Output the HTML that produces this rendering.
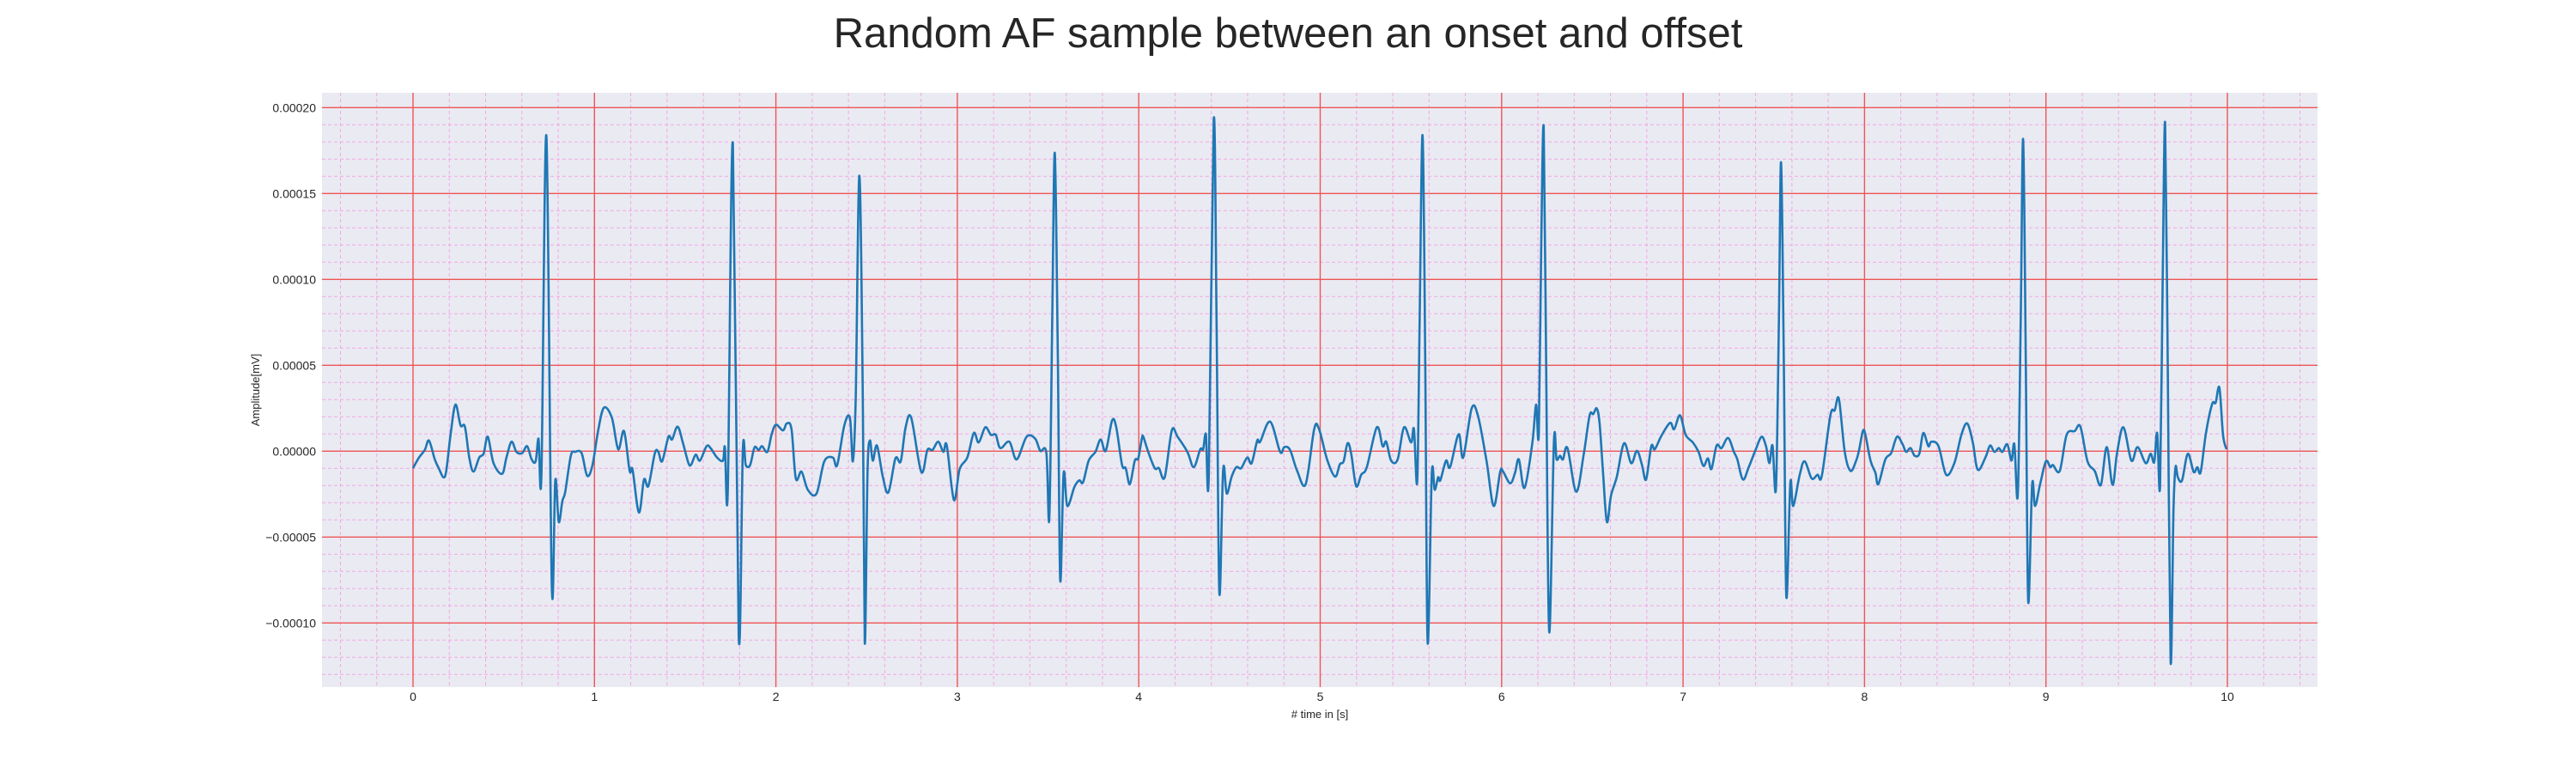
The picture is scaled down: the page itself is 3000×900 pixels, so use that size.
<!DOCTYPE html>
<html><head><meta charset="utf-8">
<style>
html,body{margin:0;padding:0;background:#fff;}
svg{display:block;font-family:"Liberation Sans",Arial,sans-serif;}
</style></head>
<body>
<svg id="chart" width="3000" height="900" viewBox="0 0 3000 900" xmlns="http://www.w3.org/2000/svg">
<text x="1500" y="55" text-anchor="middle" font-size="49" fill="#262626">Random AF sample between an onset and offset</text>
<rect x="375" y="108" width="2324" height="692" fill="#eaeaf2"/>
<g id="grid"></g>
<g id="ticks"></g>
<g id="series"></g>
<text x="1537" y="836" text-anchor="middle" font-size="13" fill="#262626"># time in [s]</text>
<text x="302" y="454" text-anchor="middle" font-size="13" fill="#262626" transform="rotate(-90 302 454)">Amplitude[mV]</text>
</svg>
<script>
// time in seconds
const times = [0.000,0.033,0.065,0.088,0.120,0.144,0.167,0.183,0.207,0.234,0.262,0.286,0.310,0.333,0.365,0.389,0.412,0.444,0.491,0.515,0.543,0.570,0.602,0.629,0.654,0.676,0.692,0.708,0.735,0.765,0.784,0.803,0.823,0.839,0.870,0.894,0.929,0.960,0.989,1.020,1.052,1.096,1.131,1.163,1.194,1.210,1.245,1.273,1.297,1.333,1.352,1.373,1.408,1.428,1.458,1.487,1.518,1.534,1.558,1.581,1.618,1.640,1.676,1.708,1.719,1.735,1.763,1.795,1.818,1.834,1.858,1.882,1.905,1.924,1.953,1.976,2.000,
2.039,2.060,2.086,2.110,2.141,2.176,2.224,2.267,2.314,2.338,2.377,2.408,2.424,2.440,2.460,2.479,2.490,2.505,2.518,2.534,2.557,2.589,2.620,2.659,2.688,2.715,2.746,2.801,2.835,2.863,2.895,2.923,2.942,2.981,3.013,3.055,3.091,3.118,3.154,3.185,3.212,3.237,3.287,3.327,3.382,3.429,3.457,3.491,3.507,3.523,3.537,3.554,3.567,3.586,3.606,3.645,3.672,3.693,3.724,3.761,3.790,3.818,3.853,3.876,3.908,3.928,3.951,3.978,3.997,
4.017,4.025,4.052,4.088,4.111,4.143,4.182,4.214,4.268,4.303,4.339,4.355,4.370,4.386,4.413,4.429,4.444,4.465,4.485,4.512,4.538,4.564,4.598,4.622,4.653,4.669,4.724,4.779,4.802,4.834,4.873,4.920,4.967,4.994,5.038,5.082,5.108,5.129,5.151,5.171,5.198,5.226,5.257,5.312,5.344,5.364,5.391,5.427,5.462,5.501,5.517,5.535,5.548,5.564,5.579,5.592,5.615,5.631,5.650,5.662,5.694,5.716,5.763,5.788,5.835,5.870,5.917,5.956,5.992,
6.006,6.047,6.074,6.095,6.126,6.169,6.190,6.205,6.218,6.232,6.245,6.262,6.288,6.303,6.322,6.338,6.363,6.411,6.453,6.485,6.505,6.524,6.540,6.559,6.580,6.603,6.635,6.675,6.714,6.746,6.774,6.796,6.825,6.844,6.880,6.928,6.951,6.983,7.014,7.054,7.085,7.112,7.137,7.156,7.185,7.212,7.248,7.280,7.299,7.330,7.362,7.401,7.433,7.457,7.476,7.493,7.512,7.528,7.540,7.555,7.569,7.591,7.607,7.643,7.670,7.709,7.741,7.765,7.812,7.836,7.859,7.891,7.923,7.954,7.970,7.991,
8.005,8.033,8.060,8.076,8.115,8.147,8.179,8.210,8.229,8.254,8.276,8.302,8.324,8.352,8.368,8.408,8.450,8.495,8.534,8.566,8.597,8.624,8.668,8.692,8.716,8.740,8.760,8.787,8.810,8.826,8.845,8.861,8.874,8.889,8.902,8.924,8.940,8.968,9.000,9.024,9.039,9.076,9.114,9.158,9.190,9.229,9.269,9.303,9.335,9.367,9.392,9.427,9.471,9.505,9.550,9.577,9.597,9.613,9.629,9.643,9.657,9.671,9.687,9.703,9.714,9.727,9.750,9.782,9.814,9.834,9.853,9.882,9.916,9.935,9.956,9.976,9.995];
// amplitude in units of 1e-5 mV
const amps = [-0.99,-0.37,0.07,0.62,-0.48,-1.04,-1.52,-1.15,0.95,2.71,1.50,1.43,-0.37,-1.19,-0.37,-0.15,0.84,-0.70,-1.32,-0.37,0.55,-0.04,-0.11,0.29,-0.48,-0.59,0.73,-1.26,18.35,-7.86,-1.70,-4.12,-2.91,-2.36,-0.26,-0.04,-0.11,-1.43,-0.81,1.17,2.53,1.94,0.11,1.17,-1.15,-1.08,-3.57,-1.65,-2.03,-0.11,-0.04,-0.59,0.84,0.68,1.43,0.51,-0.70,-0.77,-0.20,-0.55,0.29,0.18,-0.37,-0.55,0.24,-2.25,17.91,-10.77,0.07,-0.81,-0.81,0.22,0.07,0.29,-0.04,0.95,1.54,
1.21,1.61,1.28,-1.59,-1.19,-2.25,-2.47,-0.59,-0.37,-0.81,1.50,1.94,-0.59,3.15,16.04,3.15,-11.17,-1.26,0.62,-0.55,0.33,-1.48,-2.40,-0.42,-0.59,1.39,1.94,-1.21,0.07,0.07,0.55,-0.04,0.33,-2.84,-1.04,-0.37,1.06,0.51,1.39,0.95,0.95,0.18,0.55,-0.48,0.84,0.73,0.02,-0.11,-3.90,7.56,17.36,5.35,-7.47,-1.30,-3.19,-2.09,-1.70,-1.81,-0.55,-0.04,0.68,0.02,1.78,1.39,-0.81,-0.99,-1.92,-0.55,-0.42,
0.73,0.84,-0.04,-0.99,-0.99,-1.52,1.21,0.84,-0.04,-0.93,0.11,0.11,0.99,-1.37,19.27,7.56,-8.19,-1.08,-2.47,-1.48,-0.93,-0.99,-0.37,-0.70,0.62,0.55,1.72,-0.04,0.24,0.07,-1.15,-1.92,1.28,1.28,-0.48,-1.48,-0.77,-0.59,0.46,-0.15,-2.03,-1.37,-0.93,1.39,0.29,0.55,-0.55,-0.48,1.39,0.51,1.28,-1.74,7.56,18.39,5.35,-11.12,-1.37,-2.25,-1.52,-1.70,-0.55,-0.93,0.99,-0.37,2.49,2.05,-0.59,-3.19,-1.21,
-1.15,-1.87,-1.26,-0.48,-2.14,0.46,2.71,1.06,11.96,18.83,5.35,-10.51,0.55,-0.48,-0.26,-0.48,0.18,-2.36,-0.15,2.09,2.16,2.49,1.61,-1.26,-4.12,-2.58,-1.48,0.46,-0.70,0.02,-0.81,-1.65,0.29,0.11,0.88,1.65,1.28,2.09,0.95,0.51,-0.04,-0.86,-0.42,-1.04,0.33,0.18,0.77,-0.04,-0.48,-1.65,-0.93,0.11,0.84,0.29,-0.70,0.33,-2.14,7.56,16.81,5.35,-8.41,-1.87,-3.19,-1.37,-0.59,-1.59,-1.37,-1.43,2.09,2.38,3.04,-0.04,-1.15,-0.55,0.07,1.17,
0.95,-0.55,-1.26,-1.92,-0.48,-0.11,0.84,0.40,-0.04,0.18,-0.26,-0.15,1.06,0.29,0.55,0.29,-1.37,-0.70,0.95,1.61,0.51,-1.08,-0.33,0.33,-0.04,0.18,-0.04,0.40,-0.55,0.40,-2.53,7.56,18.17,5.35,-8.70,-1.96,-3.19,-1.92,-0.59,-0.93,-0.81,-1.15,0.95,1.17,1.43,-0.59,-1.15,-1.96,0.24,-1.96,-0.11,1.39,-0.55,0.24,-0.70,-0.15,-0.64,1.06,-2.03,9.76,19.12,5.35,-12.22,-3.46,-0.93,-1.52,-1.70,-0.15,-1.21,-0.93,-1.21,1.06,2.75,2.82,3.70,0.95,0.11];
const xTicks = [0,1,2,3,4,5,6,7,8,9,10];
const yTicks = [-10,-5,0,5,10,15,20];
const yTickLabels = ["\u22120.00010","\u22120.00005","0.00000","0.00005","0.00010","0.00015","0.00020"];

const L=375,R=2699,T=108,B=800;
const xScale = t => 481 + t*211.3;
const yScale = v => 525.3 - v*20;
const NS="http://www.w3.org/2000/svg";
const grid=document.getElementById('grid'), ticks=document.getElementById('ticks'), series=document.getElementById('series');
function mk(tag, attrs, parent){const e=document.createElementNS(NS,tag);for(const k in attrs)e.setAttribute(k,attrs[k]);parent.appendChild(e);return e;}
for(let i=-2;i<=52;i++){const x=xScale(i*0.2);if(x<L||x>R||i%5===0)continue;
  const e=mk('line',{x1:x,x2:x,y1:T,y2:B,stroke:'#f2a8e4','stroke-width':1,'stroke-dasharray':'4,3'},grid);
  
  }
for(let v=-13;v<=20;v++){const y=yScale(v);if(y<T||y>B||v%5===0)continue;
  const e=mk('line',{x1:L,x2:R,y1:y,y2:y,stroke:'#f2a8e4','stroke-width':1,'stroke-dasharray':'4,3'},grid);
  
  }
xTicks.forEach(t=>{const x=xScale(t);
  const e=mk('line',{x1:x,x2:x,y1:T,y2:B,stroke:'#ee5555','stroke-width':1.4},grid);
  
  
  const tx=mk('text',{x:x,y:816,'text-anchor':'middle','font-size':14,fill:'#262626'},ticks);tx.textContent=String(t);
  
  });
yTicks.forEach((v,i)=>{const y=yScale(v);
  const e=mk('line',{x1:L,x2:R,y1:y,y2:y,stroke:'#ee5555','stroke-width':1.4},grid);
  
  
  const tx=mk('text',{x:368,y:y+5,'text-anchor':'end','font-size':14,fill:'#262626'},ticks);tx.textContent=yTickLabels[i];
  
  });
// smooth path (Catmull-Rom)
const P=times.map((t,i)=>[xScale(t),yScale(amps[i])]);
let d='M'+P[0][0].toFixed(1)+','+P[0][1].toFixed(1);
for(let i=0;i<P.length-1;i++){
  const p0=P[Math.max(0,i-1)],p1=P[i],p2=P[i+1],p3=P[Math.min(P.length-1,i+2)];
  const k=1/6;
  const c1x=p1[0]+(p2[0]-p0[0])*k, c1y=p1[1]+(p2[1]-p0[1])*k;
  const c2x=p2[0]-(p3[0]-p1[0])*k, c2y=p2[1]-(p3[1]-p1[1])*k;
  d+='C'+c1x.toFixed(1)+','+c1y.toFixed(1)+' '+c2x.toFixed(1)+','+c2y.toFixed(1)+' '+p2[0].toFixed(1)+','+p2[1].toFixed(1);
}
const p=mk('path',{d:d,fill:'none',stroke:'#1f77b4','stroke-width':2.6,'stroke-linejoin':'round'},series);


</script>
</body></html>
